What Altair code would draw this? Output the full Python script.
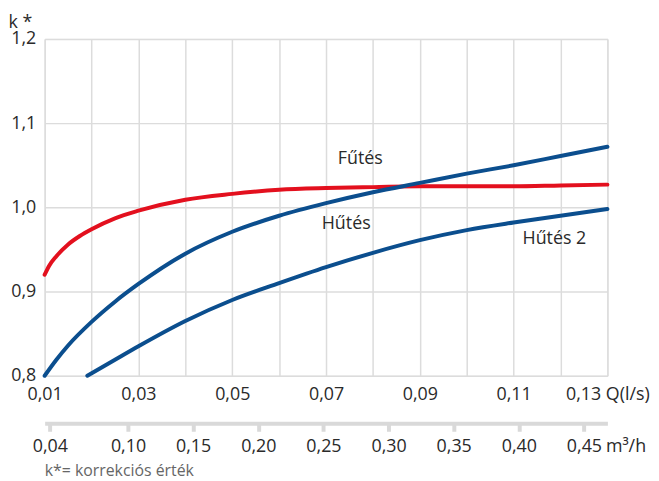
import altair as alt
import pandas as pd

# --- data -------------------------------------------------------------------
q_futes = [0.010, 0.011, 0.0125, 0.015, 0.0175, 0.020, 0.025, 0.030, 0.040, 0.050,
           0.060, 0.070, 0.080, 0.090, 0.100, 0.110, 0.120, 0.130]
k_futes = [0.920, 0.931, 0.942, 0.956, 0.966, 0.974, 0.987, 0.996, 1.009, 1.016,
           1.021, 1.023, 1.024, 1.025, 1.025, 1.025, 1.026, 1.027]

q_hutes = [0.010, 0.0125, 0.015, 0.020, 0.025, 0.030, 0.040, 0.050, 0.060, 0.070,
           0.080, 0.090, 0.100, 0.110, 0.120, 0.130]
k_hutes = [0.800, 0.819, 0.836, 0.864, 0.888, 0.909, 0.945, 0.971, 0.990, 1.005,
           1.018, 1.029, 1.040, 1.050, 1.061, 1.072]

q_hutes2 = [0.0191, 0.025, 0.030, 0.040, 0.050, 0.060, 0.070, 0.080, 0.090, 0.100,
            0.110, 0.120, 0.130]
k_hutes2 = [0.800, 0.819, 0.835, 0.865, 0.890, 0.910, 0.929, 0.946, 0.961, 0.973,
            0.982, 0.990, 0.998]

series_names = ["Fűtés", "Hűtés", "Hűtés 2"]
series_colors = ["#e3101e", "#0b4e8e", "#0b4e8e"]

label_texts = ["Fűtés", "Hűtés", "Hűtés 2"]
label_q = [0.0773, 0.0743, 0.1187]
label_k = [1.052, 0.9745, 0.9566]

x_ticks = [0.01, 0.02, 0.03, 0.04, 0.05, 0.06, 0.07, 0.08, 0.09, 0.10, 0.11, 0.12, 0.13]
x_tick_labels = ["0,01", "", "0,03", "", "0,05", "", "0,07", "", "0,09", "", "0,11", "",
                 "0,13 Q(l/s)"]
y_ticks = [0.8, 0.9, 1.0, 1.1, 1.2]
y_tick_labels = ["0,8", "0,9", "1,0", "1,1", "1,2"]
m3h_ticks = [0.04, 0.10, 0.15, 0.20, 0.25, 0.30, 0.35, 0.40, 0.45]
m3h_tick_labels = ["0,04", "0,10", "0,15", "0,20", "0,25", "0,30", "0,35", "0,40", "0,45"]

FONT = "Open Sans"
FS = 18
TXT = "#2a2a2a"
GRID = "#dcdcdc"
FRAME = "#d9d9d9"


def label_expr(values, labels):
    parts = [f"abs(datum.value - {v}) < 0.0001 ? '{l}'" for v, l in zip(values, labels)]
    return " : ".join(parts) + " : ''"


rows = []
for name, qs, ks in [(series_names[0], q_futes, k_futes),
                     (series_names[1], q_hutes, k_hutes),
                     (series_names[2], q_hutes2, k_hutes2)]:
    for i, (q, k) in enumerate(zip(qs, ks)):
        rows.append({"series": name, "q": q, "k": k, "order": i})
curves = pd.DataFrame(rows)
labels_df = pd.DataFrame({"text": label_texts, "q": label_q, "k": label_k})
m3h_df = pd.DataFrame({"m3h": m3h_ticks})

q_scale = alt.Scale(domain=[0.01, 0.13], nice=False, zero=False)
k_scale = alt.Scale(domain=[0.8, 1.2], nice=False, zero=False)

x_enc = alt.X(
    "q:Q",
    scale=q_scale,
    axis=alt.Axis(
        values=x_ticks, labelExpr=label_expr(x_ticks, x_tick_labels),
        grid=True, gridColor=GRID, gridWidth=1.5, domain=False, ticks=False,
        labelPadding=10, labelFlush=False, labelOverlap=False, labelBound=False,
        labelFont=FONT, labelFontSize=FS, labelColor=TXT, title=None,
    ),
)
y_enc = alt.Y(
    "k:Q",
    scale=k_scale,
    axis=alt.Axis(
        values=y_ticks, labelExpr=label_expr(y_ticks, y_tick_labels),
        grid=True, gridColor=GRID, gridWidth=1.5, domain=False, ticks=False,
        labelPadding=9, labelFlush=False, labelOverlap=False,
        labelFont=FONT, labelFontSize=FS, labelColor=TXT,
        title="k *", titleAngle=0, titleX=-37, titleY=-12, titleAlign="left",
        titleBaseline="alphabetic", titleFont=FONT, titleFontSize=FS,
        titleFontWeight="normal", titleColor=TXT,
    ),
)

lines = alt.Chart(curves).mark_line(strokeWidth=4, interpolate="monotone", strokeCap="round").encode(
    x=x_enc, y=y_enc,
    color=alt.Color("series:N", scale=alt.Scale(domain=series_names, range=series_colors), legend=None),
    order="order:Q",
)

texts = alt.Chart(labels_df).mark_text(
    font=FONT, fontSize=FS, color=TXT, align="center", baseline="alphabetic"
).encode(
    x=alt.X("q:Q", scale=q_scale, axis=None),
    y=alt.Y("k:Q", scale=k_scale),
    text="text:N",
)

second_axis = alt.Chart(m3h_df).mark_point(opacity=0).encode(
    x=alt.X(
        "m3h:Q",
        scale=alt.Scale(domain=[0.036, 0.468], nice=False, zero=False),
        axis=alt.Axis(
            orient="bottom", offset=48, values=m3h_ticks,
            labelExpr=label_expr(m3h_ticks, m3h_tick_labels),
            grid=False, domain=True, domainColor=FRAME, domainWidth=4,
            ticks=True, tickSize=8, tickWidth=4, tickColor=FRAME,
            labelPadding=6, labelFlush=False, labelOverlap=False, labelBound=False,
            labelFont=FONT, labelFontSize=FS, labelColor=TXT,
            title="m³/h", titleX=566, titleY=28, titleAlign="left", titleAngle=0,
            titleBaseline="alphabetic", titleFont=FONT, titleFontSize=FS,
            titleFontWeight="normal", titleColor=TXT,
        ),
    )
)

chart = (
    alt.layer(lines, texts, second_axis)
    .resolve_scale(x="independent")
    .properties(
        width=568, height=340,
        autosize=alt.AutoSizeParams(type="none"),
        padding={"left": 37, "top": 29, "right": 44, "bottom": 104},
        title=alt.TitleParams(
            "k*= korrekciós érték", orient="bottom", anchor="start", frame="group",
            font=FONT, fontSize=16, fontWeight="normal", color="#666666", offset=8,
        ),
    )
    .configure_view(stroke=FRAME, strokeWidth=4)
    .configure(background="white")
)

chart.save("out.html", embed_options={"renderer": "svg", "actions": False})
